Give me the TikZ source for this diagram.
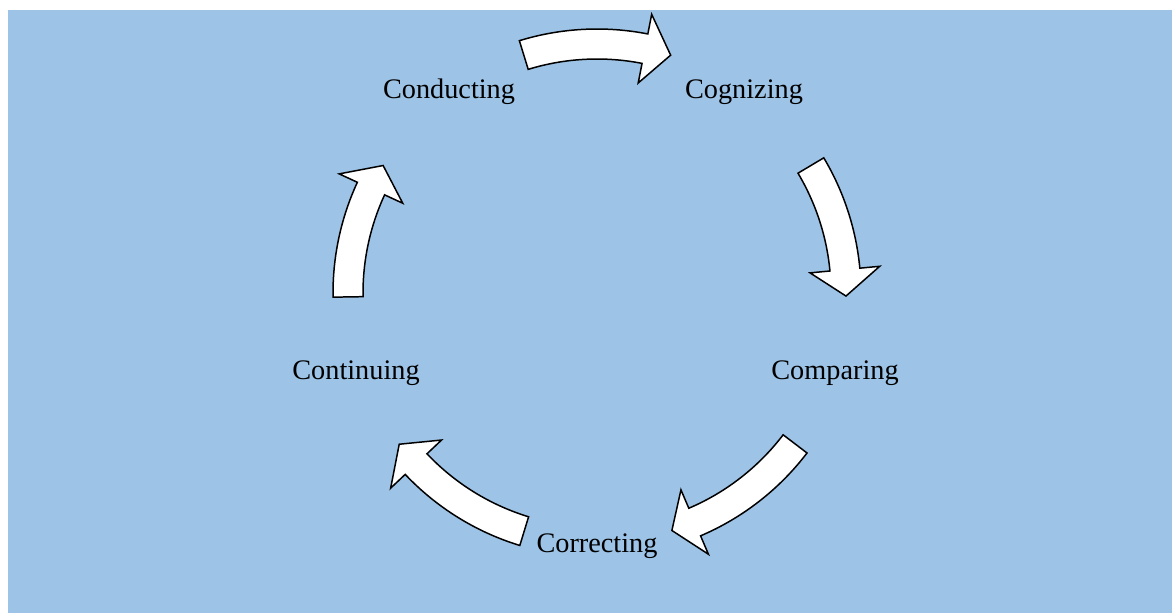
\documentclass[tikz,border=0pt]{standalone}
\usepackage{fontspec}
\setmainfont{Liberation Serif}
\usetikzlibrary{calc}
\definecolor{skyback}{RGB}{157,195,230}
% curved block arrow round the hub: tail angle, head base angle, tip angle
\newcommand\cyclearrow[3]{%
  \draw[blockarrow]($(hub)+(#1:264)$)arc[start angle=#1,end angle=#2,radius=264]
    --($(hub)+(#2:284)$)--($(hub)+(#3:249)$)--($(hub)+(#2:214)$)
    --($(hub)+(#2:234)$)arc[start angle=#2,end angle=#1,radius=234]--cycle;}

\begin{document}
\begin{tikzpicture}[x=0.02cm,y=-0.02cm,
            every node/.style={inner sep=0pt,anchor=base,font=\fontsize{16.1}{19}\selectfont},
            blockarrow/.style={fill=white,draw=black,line width=0.85pt,line join=miter}]
            \useasboundingbox(0,0)rectangle(1172,613);
            \fill[skyback](8,10)rectangle(1172,613);
            \coordinate(hub)at(597,293);
            % the five stages
            \node(conducting)at(449,98){Conducting};
            \node(cognizing)at(744,98){Cognizing};
            \node(comparing)at(835,379){Comparing};
            \node(continuing)at(356,379){Continuing};
            \node(correcting)at(597,552){Correcting};
            % curved block arrows between them
            \cyclearrow{-107.1}{-78.9}{-72.8}
            \cyclearrow{-30.8}{-5.4}{0.7}
            \cyclearrow{37.3}{66.9}{72.5}
            \cyclearrow{107}{136.6}{142.6}
            \cyclearrow{179.1}{204.8}{210.8}
        \end{tikzpicture}
\end{document}
